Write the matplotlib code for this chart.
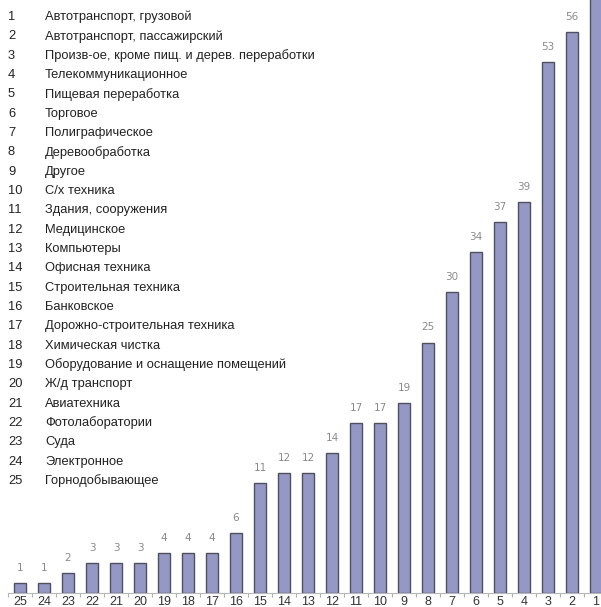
import matplotlib
matplotlib.use("Agg")
import matplotlib.pyplot as plt

# Category numbers (as shown on the x axis, largest number first)
ranks = [25, 24, 23, 22, 21, 20, 19, 18, 17, 16, 15, 14, 13,
         12, 11, 10, 9, 8, 7, 6, 5, 4, 3, 2, 1]
# Values for each category, in the same order as ranks
values = [1, 1, 2, 3, 3, 3, 4, 4, 4, 6, 11, 12, 12,
          14, 17, 17, 19, 25, 30, 34, 37, 39, 53, 56, 62]
# Show value labels for all but the topmost bar (it runs off the frame)
show_label = [True] * 24 + [False]

# Legend of category names, numbered 1..25
names = [
    "Автотранспорт, грузовой",
    "Автотранспорт, пассажирский",
    "Произв-ое, кроме пищ. и дерев. переработки",
    "Телекоммуникационное",
    "Пищевая переработка",
    "Торговое",
    "Полиграфическое",
    "Деревообработка",
    "Другое",
    "С/х техника",
    "Здания, сооружения",
    "Медицинское",
    "Компьютеры",
    "Офисная техника",
    "Строительная техника",
    "Банковское",
    "Дорожно-строительная техника",
    "Химическая чистка",
    "Оборудование и оснащение помещений",
    "Ж/д транспорт",
    "Авиатехника",
    "Фотолаборатории",
    "Суда",
    "Электронное",
    "Горнодобывающее",
]

font = "Liberation Sans"

W, H = 601, 607
fig = plt.figure(figsize=(W / 100, H / 100), dpi=100)
fig.patch.set_facecolor("white")

# Axes placement in pixels
left_px, right_px = 8, 608
base_px = 593          # baseline, from top
top_px = 0
ax = fig.add_axes([left_px / W, (H - base_px) / H,
                   (right_px - left_px) / W, (base_px - top_px) / H])

x = list(range(len(ranks)))
ax.bar(x, values, width=0.54, color="#9597c4", edgecolor="#4f5060",
       linewidth=1.0, zorder=2)

ax.set_xlim(-0.5, len(ranks) - 0.5)
ax.set_ylim(0, base_px / 10.02)

for xi, v, s in zip(x, values, show_label):
    if s:
        ax.text(xi, v + 1.0, str(v), ha="center", va="bottom",
                fontsize=7.5, color="#8a8a8a", family="DejaVu Sans")

for s in ["top", "right", "left"]:
    ax.spines[s].set_visible(False)
ax.spines["bottom"].set_color("#b8b8b8")
ax.spines["bottom"].set_linewidth(0.8)
ax.set_yticks([])
ax.set_xticks(x)
ax.set_xticklabels([str(r) for r in ranks], family=font, fontsize=9,
                   color="#333333")
ax.tick_params(axis="x", which="major", length=0, pad=2)
ax.set_xticks([i + 0.5 for i in x[:-1]] + [-0.5], minor=True)
ax.tick_params(axis="x", which="minor", length=3, color="#b0b0b0", width=0.8)

# Numbered list of categories in the upper left
y0, step = 17, 19.33
for i, name in enumerate(names):
    yy = 1 - (y0 + i * step) / H
    fig.text(8 / W, yy, str(i + 1), ha="left", va="center",
             fontsize=9.3, family=font, color="#222222")
    fig.text(45 / W, yy, name, ha="left", va="center",
             fontsize=9.3, family=font, color="#222222")

fig.savefig("out.png", dpi=100, facecolor="white")
